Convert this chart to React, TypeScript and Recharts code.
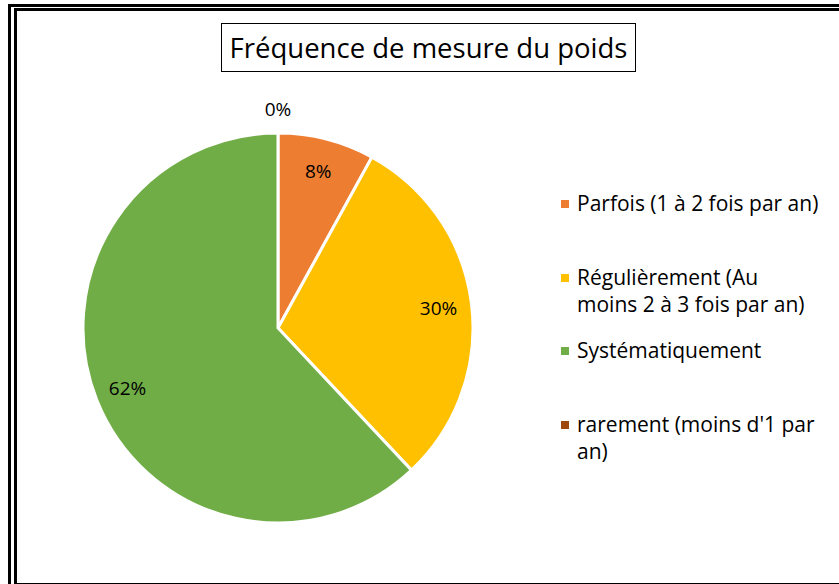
import { PieChart, Pie, Cell, Legend } from 'recharts';

const categories = [
    'Parfois (1 à 2 fois par an)',
    'Régulièrement (Au moins 2 à 3 fois par an)',
    'Systématiquement',
    "rarement (moins d'1 par an)",
];
const shares = [8, 30, 62, 0];
const colors = ['#ED7D31', '#FFC000', '#70AD47', '#9E480E'];

const data = categories.map((name, i) => ({ name, value: shares[i] }));

const FONT = '"Open Sans", sans-serif';
const RAD = Math.PI / 180;

const renderLabel = (props: any) => {
    const { cx, cy, midAngle, outerRadius, value } = props;
    const r = value === 0 ? outerRadius + 24 : outerRadius * 0.83;
    const x = cx + r * Math.cos(-midAngle * RAD);
    const y = cy + r * Math.sin(-midAngle * RAD);
    return (
        <text x={x} y={y} textAnchor="middle" dominantBaseline="central" fill="#000" fontSize={19} fontFamily={FONT}>
            {`${value}%`}
        </text>
    );
};

const renderLegend = () => (
    <div style={{ fontFamily: FONT, fontSize: 21, color: '#000' }}>
        {categories.map((name, i) => (
            <div key={name} style={{ position: 'absolute', top: i * 73.5, left: 0, display: 'flex', width: 270 }}>
                <span
                    style={{
                        display: 'inline-block',
                        width: 8,
                        height: 8,
                        background: colors[i],
                        marginTop: 10,
                        marginRight: 8,
                        flexShrink: 0,
                    }}
                />
                <span style={{ lineHeight: '27px', width: 244 }}>{name}</span>
            </div>
        ))}
    </div>
);

export default function App() {
    return (
        <div style={{ position: 'absolute', left: 0, top: 0, width: 839, height: 584, overflow: 'hidden', background: '#fff' }}>
            <div style={{ position: 'absolute', left: 8, top: 4, width: 860, height: 600, border: '3px solid #000' }} />
            <div style={{ position: 'absolute', left: 14, top: 8, width: 860, height: 572, border: '3px solid #000' }} />
            <div
                style={{
                    position: 'absolute',
                    left: 221,
                    top: 23,
                    width: 413,
                    height: 47,
                    border: '1.5px solid #000',
                    fontFamily: FONT,
                    fontSize: 27.5,
                    lineHeight: '47px',
                    textAlign: 'center',
                    color: '#000',
                    whiteSpace: 'nowrap',
                }}
            >
                Fréquence de mesure du poids
            </div>
            <div style={{ position: 'absolute', left: 0, top: 0 }}>
                <PieChart width={839} height={584} margin={{ top: 0, right: 0, bottom: 0, left: 0 }}>
                    <Pie
                        data={data}
                        dataKey="value"
                        nameKey="name"
                        cx={278}
                        cy={328}
                        outerRadius={195}
                        startAngle={90}
                        endAngle={-270}
                        stroke="#fff"
                        strokeWidth={3}
                        label={renderLabel}
                        labelLine={false}
                        isAnimationActive={false}
                    >
                        {data.map((d, i) => (
                            <Cell key={d.name} fill={colors[i]} />
                        ))}
                    </Pie>
                    <Legend
                        content={renderLegend}
                        layout="vertical"
                        wrapperStyle={{ position: 'absolute', left: 561, top: 190, width: 270 }}
                    />
                </PieChart>
            </div>
        </div>
    );
}
